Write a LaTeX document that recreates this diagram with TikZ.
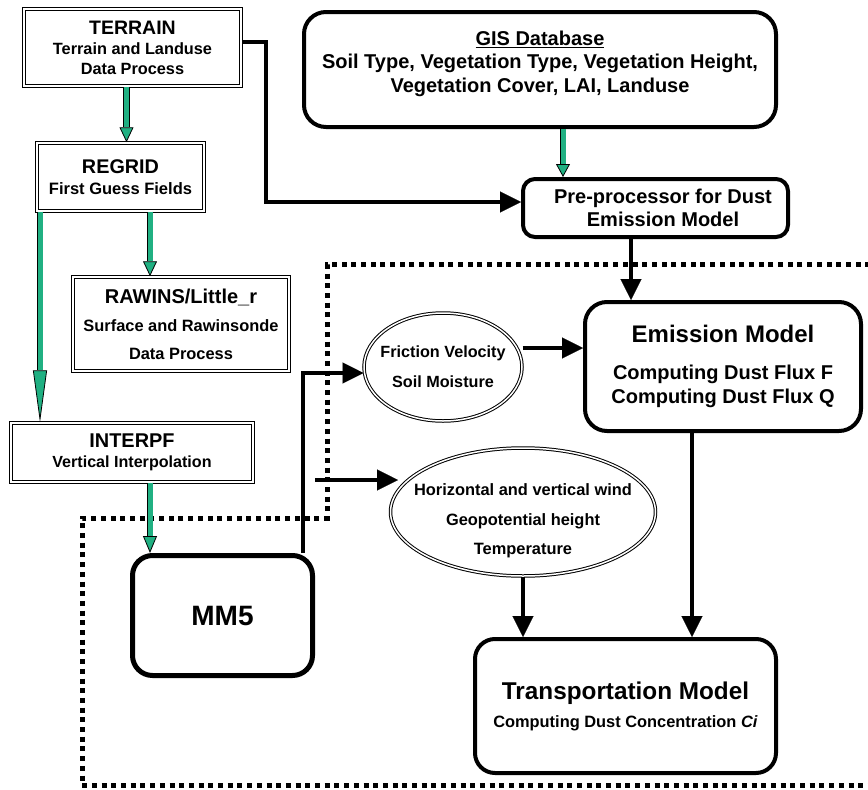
\documentclass[tikz,border=0pt]{standalone}
\usepackage{fontspec}
\setmainfont{Liberation Sans}
\usetikzlibrary{arrows.meta,shapes.geometric,calc}
\definecolor{tealg}{RGB}{32,176,130}
\newcommand\garrow[3][15pt]{%
  \draw[line width=0.8pt, -{Triangle[length=#1,width=14pt,fill=tealg,line width=0.8pt]}] #2 -- #3;
  \draw[line width=0.8pt, double=tealg, double distance=5pt, shorten >=#1] #2 -- #3;
}
\begin{document}
\begin{tikzpicture}[x=1pt,y=-1pt,
  dbox/.style={draw, line width=1.5pt, double=white, double distance=1.5pt, inner sep=0pt, align=center},
  rbox/.style={draw, line width=4pt, rounded corners=20pt, inner sep=0pt, align=center},
  dell/.style={ellipse, draw, line width=1pt, double=white, double distance=1.5pt, inner sep=0pt},
  barrow/.style={line width=4pt, -{Triangle[length=21pt,width=21pt,line width=0.1pt]}},
  dotline/.style={line width=5pt, dash pattern=on 5pt off 4.7pt},
]
\useasboundingbox (0,0) rectangle (868,790);

% dotted region
\draw[dotline] (880,264) -- (327,264) -- (327,518) -- (82,518) -- (82,785) -- (880,785);

% boxes
\node[dbox, minimum width=217pt, minimum height=77pt, font=\fontsize{16.3}{20}\selectfont\bfseries] (terrain) at (132.5,47.5)
  {{\fontsize{19.5}{20}\selectfont TERRAIN}\\Terrain and Landuse\\Data Process};
\node[dbox, minimum width=167pt, minimum height=68pt, font=\fontsize{16.5}{20.5}\selectfont\bfseries] (regrid) at (120.5,177)
  {{\fontsize{19.8}{20.5}\selectfont REGRID}\\First Guess Fields};
\node[dbox, minimum width=216pt, minimum height=94pt, font=\fontsize{16.4}{28}\selectfont\bfseries] (rawins) at (181,324)
  {{\fontsize{20}{28}\selectfont RAWINS/Little\_r}\\Surface and Rawinsonde\\Data Process};
\node[dbox, minimum width=242pt, minimum height=59pt, font=\fontsize{16.1}{20}\selectfont\bfseries] (interpf) at (132,452.5)
  {{\fontsize{19.9}{20}\selectfont INTERPF}\\Vertical Interpolation};

\node[rbox, rounded corners=22pt, minimum width=472pt, minimum height=115pt, font=\fontsize{20}{23.5}\selectfont\bfseries] (gis) at (540,69.5)
  {\underline{GIS Database}\\Soil Type, Vegetation Type, Vegetation Height,\\Vegetation Cover, LAI, Landuse\\[-8pt]\mbox{}};
\node[rbox, rounded corners=12pt, minimum width=265pt, minimum height=58pt, font=\fontsize{20}{23}\selectfont\bfseries] (pre) at (655.5,208)
  {\hspace*{15pt}Pre-processor for Dust\\\hspace*{15pt}Emission Model};
\node[rbox, rounded corners=22pt, minimum width=276pt, minimum height=129pt, font=\fontsize{20}{24}\selectfont\bfseries] (emis) at (723,366.5)
  {{\fontsize{24}{24}\selectfont Emission Model}\\[13.6pt]Computing Dust Flux F\\Computing Dust Flux Q};
\node[rbox, line width=5pt, minimum width=180pt, minimum height=120pt, font=\fontsize{28}{30}\selectfont\bfseries] (mm5) at (222.5,615.5) {MM5};
\node[rbox, minimum width=301pt, minimum height=134pt, font=\fontsize{16.4}{28}\selectfont\bfseries] (trans) at (625.5,706)
  {{\fontsize{24.3}{28}\selectfont Transportation Model}\\Computing Dust Concentration \textit{Ci}};

\node[dell, minimum width=158pt, minimum height=108pt,
  label={[font=\fontsize{16.2}{30}\selectfont\bfseries, align=center]center:Friction Velocity\\Soil Moisture}] (fric) at (443,367) {};
\node[dell, minimum width=265pt, minimum height=128pt,
  label={[font=\fontsize{16.4}{29.5}\selectfont\bfseries, align=center, yshift=-9pt]center:Horizontal and vertical wind\\Geopotential height\\Temperature}] (wind) at (523,512) {};

% green arrows
\coordinate (g1) at ([xshift=-6pt]terrain.south);
\garrow{(g1)}{(g1 |- regrid.north)}
\coordinate (g2) at ([xshift=-80.5pt]regrid.south);
\garrow[52pt]{(g2)}{(g2 |- interpf.north)}
\coordinate (g3) at ([xshift=29.5pt]regrid.south);
\garrow{(g3)}{(g3 |- rawins.north)}
\coordinate (g4) at ([xshift=23pt]gis.south);
\garrow[13pt]{(g4)}{(g4 |- pre.north)}
\coordinate (g5) at ([xshift=18pt]interpf.south);
\garrow[17pt]{(g5)}{(g5 |- mm5.north)}

% black arrows
\draw[barrow] ([yshift=5.5pt]terrain.east) -- ++(24,0) |- ([yshift=6pt]pre.west);
\coordinate (p1) at ([xshift=-24.5pt]pre.south);
\draw[barrow] (p1) -- (p1 |- emis.north);
\coordinate (e1) at ([yshift=18.5pt]emis.west);
\draw[barrow] (fric.east |- e1) -- (e1);
\coordinate (m1) at ([xshift=80.5pt]mm5.north);
\draw[barrow] (m1) |- ([yshift=-6pt]fric.west);
\coordinate (s1) at (315,480);
\draw[barrow] (s1) -- ($(s1 -| wind.west)+(8,0)$);
\draw[barrow] (wind.south) -- (wind.south |- trans.north);
\coordinate (e2) at ([xshift=-31pt]emis.south);
\draw[barrow] (e2) -- (e2 |- trans.north);
\end{tikzpicture}
\end{document}
